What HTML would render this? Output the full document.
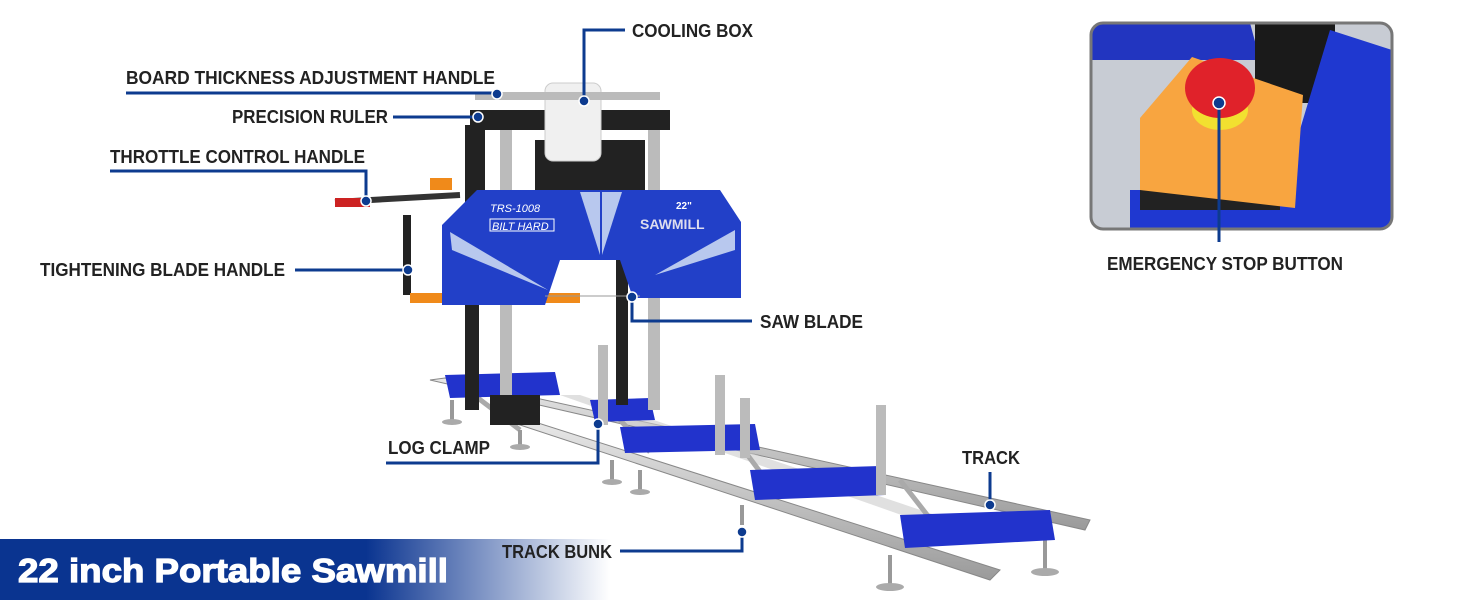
<!DOCTYPE html>
<html><head><meta charset="utf-8"><style>
html,body{margin:0;padding:0;background:#fff;}
svg{display:block}
.l{font-family:"Liberation Sans",sans-serif;font-weight:bold;font-size:18px;fill:#222;}
</style></head><body>
<svg width="1464" height="600" viewBox="0 0 1464 600" xmlns="http://www.w3.org/2000/svg">
<defs>
<linearGradient id="bn" x1="0" x2="1"><stop offset="0" stop-color="#0a3490"/><stop offset="0.6" stop-color="#0a3490"/><stop offset="1" stop-color="#fff"/></linearGradient>
<linearGradient id="rail" x1="0" y1="0" x2="0" y2="1"><stop offset="0" stop-color="#e8e8e8"/><stop offset="1" stop-color="#9a9a9a"/></linearGradient>
</defs>
<polygon points="430,380 445,378 1090,520 1085,530" fill="url(#rail)" stroke="#888"/>
<polygon points="520,425 535,422 1000,570 990,580" fill="url(#rail)" stroke="#888"/>
<polygon points="560,395 580,395 950,520 930,525" fill="#ccc" opacity="0.6"/>
<g stroke="#aaa" stroke-width="5">
<line x1="470" y1="392" x2="520" y2="430"/><line x1="620" y1="420" x2="650" y2="452"/>
<line x1="740" y1="445" x2="770" y2="485"/><line x1="900" y1="480" x2="935" y2="525"/>
</g>
<g stroke="#999" stroke-width="4">
<line x1="452" y1="400" x2="452" y2="420"/><line x1="520" y1="430" x2="520" y2="445"/>
<line x1="612" y1="460" x2="612" y2="480"/><line x1="640" y1="470" x2="640" y2="490"/>
<line x1="742" y1="505" x2="742" y2="525"/><line x1="890" y1="555" x2="890" y2="585"/>
<line x1="1045" y1="540" x2="1045" y2="570"/>
</g>
<g fill="#aaa"><ellipse cx="452" cy="422" rx="10" ry="3"/><ellipse cx="520" cy="447" rx="10" ry="3"/><ellipse cx="612" cy="482" rx="10" ry="3"/><ellipse cx="640" cy="492" rx="10" ry="3"/><ellipse cx="890" cy="587" rx="14" ry="4"/><ellipse cx="1045" cy="572" rx="14" ry="4"/></g>
<g fill="#2233cc">
<polygon points="445,375 555,372 560,395 450,398"/>
<polygon points="620,427 755,424 760,450 625,453"/>
<polygon points="750,470 880,466 885,495 755,500"/>
<polygon points="900,515 1050,510 1055,540 905,548"/>
<polygon points="590,400 650,398 655,420 595,422"/>
</g>
<g fill="#bbb"><rect x="598" y="345" width="10" height="80"/><rect x="715" y="375" width="10" height="80"/><rect x="876" y="405" width="10" height="90"/><rect x="740" y="398" width="10" height="60"/></g>
<rect x="465" y="300" width="14" height="110" fill="#222"/>
<rect x="616" y="255" width="12" height="150" fill="#222"/>
<rect x="500" y="120" width="12" height="290" fill="#bbb"/>
<rect x="648" y="120" width="12" height="290" fill="#bbb"/>
<rect x="490" y="395" width="50" height="30" fill="#222"/>
<rect x="470" y="110" width="200" height="20" fill="#222"/>
<rect x="465" y="125" width="20" height="120" fill="#222"/>
<rect x="535" y="140" width="110" height="55" fill="#222"/>
<rect x="545" y="83" width="56" height="78" rx="8" fill="#f0f0f0" stroke="#ccc"/>
<rect x="475" y="92" width="185" height="8" fill="#bbb"/>
<line x1="335" y1="202" x2="460" y2="195" stroke="#333" stroke-width="6"/>
<rect x="335" y="198" width="35" height="9" fill="#c22"/>
<rect x="430" y="178" width="22" height="12" fill="#f08a1a"/>
<rect x="403" y="215" width="8" height="80" fill="#222"/>
<rect x="410" y="293" width="170" height="10" fill="#f08a1a"/>
<polygon points="477,190 720,190 741,222 741,298 633,298 620,260 560,260 545,305 442,305 442,225" fill="#2240c8"/>
<polygon points="580,192 600,192 600,255" fill="#b8c8ee"/><polygon points="602,192 622,192 602,255" fill="#b8c8ee"/>
<polygon points="450,232 548,290 452,250" fill="#b8c8ee"/>
<polygon points="735,230 655,275 735,250" fill="#b8c8ee"/>
<text x="490" y="212" font-family="Liberation Sans,sans-serif" font-style="italic" font-size="11" fill="#fff">TRS-1008</text>
<rect x="490" y="219" width="64" height="12" fill="none" stroke="#fff"/>
<text x="492" y="230" font-family="Liberation Sans,sans-serif" font-style="italic" font-size="11" fill="#fff">BILT HARD</text>
<text x="640" y="229" font-family="Liberation Sans,sans-serif" font-weight="bold" font-size="14" fill="#dde">SAWMILL</text>
<text x="676" y="209" font-family="Liberation Sans,sans-serif" font-weight="bold" font-size="10" fill="#fff">22"</text>
<line x1="545" y1="296" x2="640" y2="296" stroke="#999"/>
<g>
<clipPath id="ic"><rect x="1091" y="23" width="301" height="206" rx="12"/></clipPath>
<g clip-path="url(#ic)">
<rect x="1091" y="23" width="301" height="206" fill="#c8ccd4"/>
<polygon points="1091,23 1250,23 1260,60 1091,60" fill="#2235c0"/>
<rect x="1255" y="23" width="80" height="80" fill="#1a1a1a"/>
<polygon points="1330,30 1392,50 1392,229 1270,229" fill="#1f38d0"/>
<rect x="1130" y="190" width="150" height="40" fill="#1f38d0"/>
<rect x="1140" y="150" width="140" height="60" fill="#222"/>
<polygon points="1192,57 1303,95 1295,208 1140,190 1140,118" fill="#f8a540"/>
<ellipse cx="1220" cy="110" rx="28" ry="20" fill="#f2e030"/>
<ellipse cx="1220" cy="88" rx="35" ry="30" fill="#e0222a"/>
</g>
<rect x="1091" y="23" width="301" height="206" rx="12" fill="none" stroke="#777" stroke-width="3"/>
</g>
<g stroke="#0d3b8f" stroke-width="3" fill="none">
<polyline points="625,30 584,30 584,100"/>
<line x1="126" y1="93" x2="495" y2="93"/>
<line x1="393" y1="117" x2="478" y2="117"/>
<polyline points="110,171 366,171 366,200"/>
<line x1="295" y1="270" x2="408" y2="270"/>
<polyline points="632,297 632,321 752,321"/>
<polyline points="386,463 598,463 598,424"/>
<line x1="990" y1="472" x2="990" y2="505"/>
<polyline points="620,551 742,551 742,532"/>
<line x1="1219" y1="103" x2="1219" y2="242"/>
</g>
<g fill="#0d3b8f" stroke="#fff" stroke-width="1.5">
<circle cx="584" cy="101" r="5"/><circle cx="497" cy="94" r="5"/><circle cx="478" cy="117" r="5"/>
<circle cx="366" cy="201" r="5"/><circle cx="408" cy="270" r="5"/><circle cx="632" cy="297" r="5"/>
<circle cx="598" cy="424" r="5"/><circle cx="990" cy="505" r="5"/><circle cx="742" cy="532" r="5"/>
<circle cx="1219" cy="103" r="6"/>
</g>
<text class="l" x="632" y="37" textLength="121" lengthAdjust="spacingAndGlyphs">COOLING BOX</text>
<text class="l" x="126" y="84" textLength="369" lengthAdjust="spacingAndGlyphs">BOARD THICKNESS ADJUSTMENT HANDLE</text>
<text class="l" x="232" y="123" textLength="156" lengthAdjust="spacingAndGlyphs">PRECISION RULER</text>
<text class="l" x="110" y="163" textLength="255" lengthAdjust="spacingAndGlyphs">THROTTLE CONTROL HANDLE</text>
<text class="l" x="40" y="276" textLength="245" lengthAdjust="spacingAndGlyphs">TIGHTENING BLADE HANDLE</text>
<text class="l" x="760" y="328" textLength="103" lengthAdjust="spacingAndGlyphs">SAW BLADE</text>
<text class="l" x="388" y="454" textLength="102" lengthAdjust="spacingAndGlyphs">LOG CLAMP</text>
<text class="l" x="962" y="464" textLength="58" lengthAdjust="spacingAndGlyphs">TRACK</text>
<text class="l" x="1107" y="270" textLength="236" lengthAdjust="spacingAndGlyphs">EMERGENCY STOP BUTTON</text>
<rect x="0" y="539" width="610" height="61" fill="url(#bn)"/>
<text x="18" y="582" font-family="Liberation Sans,sans-serif" font-weight="bold" font-size="33" fill="#fff" stroke="#fff" stroke-width="1.2" textLength="430" lengthAdjust="spacingAndGlyphs">22 inch Portable Sawmill</text>
<text class="l" x="502" y="558" textLength="110" lengthAdjust="spacingAndGlyphs">TRACK BUNK</text>
</svg>
</body></html>
